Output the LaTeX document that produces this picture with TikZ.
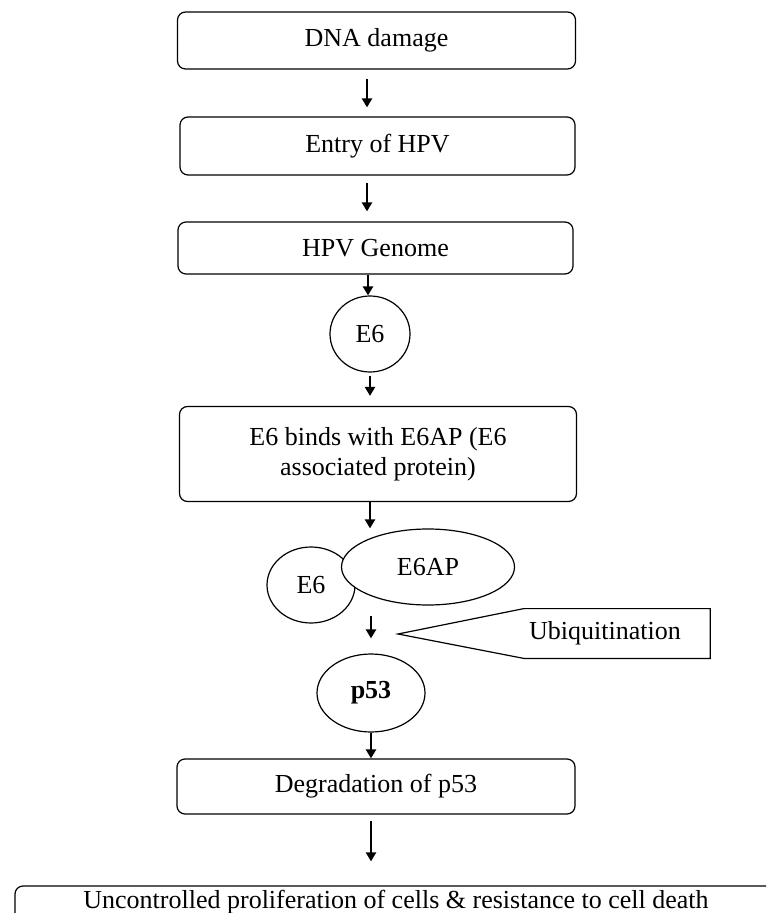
\documentclass[tikz,border=0pt]{standalone}
\usepackage{fontspec}
\setmainfont{Liberation Serif}
\usetikzlibrary{arrows.meta,shapes.geometric}

\tikzset{
  txt/.style={font=\fontsize{13}{15}\selectfont, align=center, inner sep=0pt},
  stepbox/.style={txt, draw, line width=0.6pt, rounded corners=4pt},
  blob/.style={txt, draw, line width=0.6pt, ellipse, fill=white},
  arr/.style={line width=1.2pt, -{Triangle[length=4.5pt,width=5pt]}}
}

\begin{document}
\begin{tikzpicture}[x=0.5pt,y=-0.5pt]
\clip (0,0) rectangle (766,913);

% main chain of boxes
\node[stepbox, minimum width=199pt, minimum height=28.5pt] (dna) at (376.5,40.5) {DNA damage};
\node[stepbox, minimum width=197.5pt, minimum height=29pt] (entry) at (377.5,146) {Entry of HPV};
\node[stepbox, minimum width=197.5pt, minimum height=26pt] (genome) at (375.5,248) {HPV Genome};
\node[blob, minimum width=40pt, minimum height=38pt] (e6) at (370,334) {E6};
\node[stepbox, minimum width=198.5pt, minimum height=47.5pt] (binds) at (378,454) {E6 binds with E6AP (E6\\associated protein)};

% E6/E6AP complex
\node[blob, minimum width=44pt, minimum height=38pt] (e6b) at (311,585) {E6};
\node[blob, minimum width=86.5pt, minimum height=38pt] (e6ap) at (428,567) {E6AP};

% ubiquitination callout
\node[txt, minimum height=24.5pt] (ubq) at (605,633.5) {Ubiquitination};
\coordinate (tip) at (398,634);
\draw[line width=0.6pt] (tip) -- ([xshift=-2.5pt]ubq.north west) -- ([xshift=14.5pt]ubq.north east)
  -- ([xshift=14.5pt]ubq.south east) -- ([xshift=-2.5pt]ubq.south west) -- cycle;

\node[blob, minimum width=54pt, minimum height=39pt, font=\fontsize{13}{15}\selectfont\bfseries] (p53) at (371,693) {p53};
\node[stepbox, minimum width=199pt, minimum height=27.5pt] (degr) at (376,786.5) {Degradation of p53};
\node[stepbox, anchor=base, minimum width=381pt, text height=11pt, text depth=18pt] (final) at (396,908)
  {Uncontrolled proliferation of cells \& resistance to cell death};

% arrows
\draw[arr, shorten <=4.5pt, shorten >=4.5pt] (dna.south -| 367,0) -- (entry.north -| 367,0);
\draw[arr, shorten <=3.5pt, shorten >=5pt] (entry.south -| 367,0) -- (genome.north -| 367,0);
\draw[arr] (genome.south -| 368,0) -- (e6.north -| 368,0);
\draw[arr, shorten <=1.5pt, shorten >=5pt] (e6.south) -- (binds.north -| e6.south);
\draw[arr] (binds.south -| e6.south) -- (e6ap.north -| e6.south);
\draw[arr, shorten <=5pt, shorten >=7.5pt] (e6ap.south -| p53.north) -- (p53.north);
\draw[arr] (p53.south) -- (degr.north -| p53.south);
\draw[arr, shorten <=3pt, shorten >=12pt] (degr.south -| p53.south) -- (final.north -| p53.south);

\end{tikzpicture}
\end{document}
